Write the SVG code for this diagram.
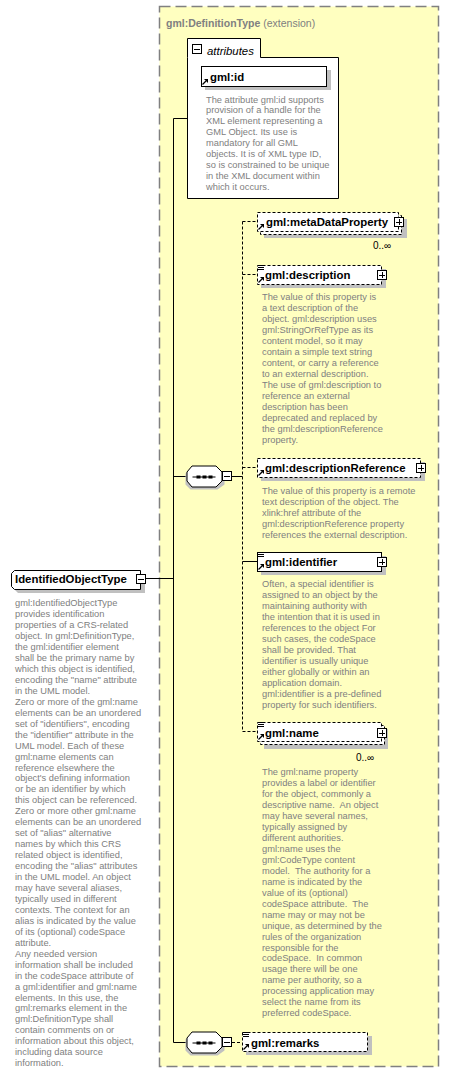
<svg xmlns="http://www.w3.org/2000/svg" width="449" height="1074" viewBox="0 0 449 1074">
<style>
.nm{font-family:"Liberation Sans",Arial,sans-serif;font-weight:bold;font-size:11.4px;fill:#000}
.ds{font-family:"Liberation Sans",Arial,sans-serif;font-size:9.3px;fill:#808080;white-space:pre}
.bx{fill:#fff;stroke:#000;stroke-width:1}
.op{stroke-dasharray:3 2}
.sh{fill:#c0c0c0}
.ln{stroke:#000;fill:none;stroke-width:1}
.dl{stroke:#000;fill:none;stroke-width:1;stroke-dasharray:3 2}
.oc{font-family:"Liberation Sans",Arial,sans-serif;font-size:10px;fill:#000}
</style>
<defs>
<g id="plus"><rect x="-4.5" y="-4.5" width="9" height="9" fill="#fff" stroke="#000"/><path d="M-3,0.5H3M0.5,-3V3" stroke="#000" fill="none"/></g>
<g id="minus"><rect x="-4.5" y="-4.5" width="9" height="9" fill="#fff" stroke="#000"/><path d="M-3,0.5H3" stroke="#000" fill="none"/></g>
<g id="arr"><path d="M1.5,-1.5L5,-5" stroke="#000" stroke-width="1.2" fill="none"/><path d="M3,-7L7,-7L7,-3Z" fill="#000"/></g>
<g id="doc"><path d="M1,0.5H7M1,2.5H7M1,4.5H7" stroke="#000" stroke-width="1" fill="none"/></g>
<g id="seq"><polygon points="4,3 31,3 38,8 38,19 31,24 4,24 -1,19 -1,8" class="sh"/><polygon points="5.5,0.5 29.5,0.5 35.5,6.5 35.5,15.5 29.5,21.5 5.5,21.5 0.5,15.5 0.5,6.5" class="bx"/><path d="M6,11.5H29" stroke="#000"/><rect x="10" y="10" width="4" height="3" fill="#000"/><rect x="16" y="10" width="4" height="3" fill="#000"/><rect x="22" y="10" width="4" height="3" fill="#000"/></g>
</defs>

<g id="extension">
<rect x="159.5" y="6.5" width="279" height="1060" fill="#ffffc0" stroke="#808080" stroke-width="1.5" stroke-dasharray="11 5"/>
<text x="166" y="26.5" font-family="Liberation Sans,Arial,sans-serif" font-size="10.5px" fill="#808080"><tspan font-weight="bold">gml:DefinitionType</tspan> (extension)</text>
</g>

<g id="connectors">
<path class="ln" d="M146,578.5H173.5M173.5,118.5V1042.5M173.5,118.5H187M173.5,476.5H187M173.5,1042.5H187"/>
<path class="ln" d="M232,476.5H242.5"/>
<path class="dl" d="M242.5,221.5V731.5H257M242.5,221.5H257M242.5,274.5H257M242.5,467.5H257"/>
<path class="ln" d="M242.5,561.5H257"/>
<path class="dl" d="M232,1042.5H242"/>
</g>

<g id="IdentifiedObjectType">
<polygon class="sh" points="18,574 145,574 145,593 18,593 15,590 15,577"/>
<polygon class="bx" points="14.5,570.5 140.5,570.5 140.5,589.5 14.5,589.5 11.5,586.5 11.5,573.5"/>
<text class="nm" x="15" y="583">IdentifiedObjectType</text>
<use href="#minus" x="141" y="579"/>
<text class="ds" x="15" y="606.3"><tspan x="15">gml:IdentifiedObjectType</tspan><tspan x="15" dy="10.95">provides identification</tspan><tspan x="15" dy="10.95">properties of a CRS-related</tspan><tspan x="15" dy="10.95">object. In gml:DefinitionType,</tspan><tspan x="15" dy="10.95">the gml:identifier element</tspan><tspan x="15" dy="10.95">shall be the primary name by</tspan><tspan x="15" dy="10.95">which this object is identified,</tspan><tspan x="15" dy="10.95">encoding the "name" attribute</tspan><tspan x="15" dy="10.95">in the UML model.</tspan><tspan x="15" dy="10.95">Zero or more of the gml:name</tspan><tspan x="15" dy="10.95">elements can be an unordered</tspan><tspan x="15" dy="10.95">set of "identifiers", encoding</tspan><tspan x="15" dy="10.95">the "identifier" attribute in the</tspan><tspan x="15" dy="10.95">UML model. Each of these</tspan><tspan x="15" dy="10.95">gml:name elements can</tspan><tspan x="15" dy="10.95">reference elsewhere the</tspan><tspan x="15" dy="10.95">object's defining information</tspan><tspan x="15" dy="10.95">or be an identifier by which</tspan><tspan x="15" dy="10.95">this object can be referenced.</tspan><tspan x="15" dy="10.95">Zero or more other gml:name</tspan><tspan x="15" dy="10.95">elements can be an unordered</tspan><tspan x="15" dy="10.95">set of "alias" alternative</tspan><tspan x="15" dy="10.95">names by which this CRS</tspan><tspan x="15" dy="10.95">related object is identified,</tspan><tspan x="15" dy="10.95">encoding the "alias" attributes</tspan><tspan x="15" dy="10.95">in the UML model. An object</tspan><tspan x="15" dy="10.95">may have several aliases,</tspan><tspan x="15" dy="10.95">typically used in different</tspan><tspan x="15" dy="10.95">contexts. The context for an</tspan><tspan x="15" dy="10.95">alias is indicated by the value</tspan><tspan x="15" dy="10.95">of its (optional) codeSpace</tspan><tspan x="15" dy="10.95">attribute.</tspan><tspan x="15" dy="10.95">Any needed version</tspan><tspan x="15" dy="10.95">information shall be included</tspan><tspan x="15" dy="10.95">in the codeSpace attribute of</tspan><tspan x="15" dy="10.95">a gml:identifier and gml:name</tspan><tspan x="15" dy="10.95">elements. In this use, the</tspan><tspan x="15" dy="10.95">gml:remarks element in the</tspan><tspan x="15" dy="10.95">gml:DefinitionType shall</tspan><tspan x="15" dy="10.95">contain comments on or</tspan><tspan x="15" dy="10.95">information about this object,</tspan><tspan x="15" dy="10.95">including data source</tspan><tspan x="15" dy="10.95">information.</tspan></text>
</g>

<g id="attributes">
<path class="bx" d="M187.5,57.5V38.5H260.5V57.5H338.5V198.5H187.5Z"/>
<use href="#minus" x="197" y="49"/>
<text x="207" y="55" font-family="Liberation Sans,Arial,sans-serif" font-style="italic" font-size="11.4px" fill="#000">attributes</text>
</g>

<g id="gml-id">
<rect class="sh" x="205" y="70" width="126" height="20"/>
<rect class="bx" x="201.5" y="66.5" width="125" height="20"/>
<text class="nm" x="210" y="80.5">gml:id</text>
<use href="#arr" x="201" y="86"/>
<text class="ds" x="206" y="102.5"><tspan x="206">The attribute gml:id supports</tspan><tspan x="206" dy="10.9">provision of a handle for the</tspan><tspan x="206" dy="10.9">XML element representing a</tspan><tspan x="206" dy="10.9">GML Object. Its use is</tspan><tspan x="206" dy="10.9">mandatory for all GML</tspan><tspan x="206" dy="10.9">objects. It is of XML type ID,</tspan><tspan x="206" dy="10.9">so is constrained to be unique</tspan><tspan x="206" dy="10.9">in the XML document within</tspan><tspan x="206" dy="10.9">which it occurs.</tspan></text>
</g>

<g id="sequence1">
<use href="#seq" x="186.5" y="465.5"/>
<use href="#minus" x="227" y="476"/>
</g>

<g id="metaDataProperty">
<rect class="sh" x="264" y="219" width="143" height="19"/>
<rect class="bx op" x="260.5" y="215.5" width="141" height="19"/>
<rect class="bx op" x="257.5" y="212.5" width="141" height="19"/>
<text class="nm" x="266" y="226">gml:metaDataProperty</text>
<use href="#arr" x="257" y="231"/>
<use href="#plus" x="399" y="222"/>
<text class="oc" x="373" y="248.5">0..∞</text>
</g>

<g id="description">
<rect class="sh" x="261" y="269" width="125" height="19"/>
<rect class="bx op" x="257.5" y="265.5" width="124" height="19"/>
<use href="#doc" x="257" y="265"/>
<text class="nm" x="265" y="278.5">gml:description</text>
<use href="#arr" x="257" y="284"/>
<use href="#plus" x="382" y="275"/>
<text class="ds" x="262" y="300"><tspan x="262">The value of this property is</tspan><tspan x="262" dy="11">a text description of the</tspan><tspan x="262" dy="11">object. gml:description uses</tspan><tspan x="262" dy="11">gml:StringOrRefType as its</tspan><tspan x="262" dy="11">content model, so it may</tspan><tspan x="262" dy="11">contain a simple text string</tspan><tspan x="262" dy="11">content, or carry a reference</tspan><tspan x="262" dy="11">to an external description.</tspan><tspan x="262" dy="11">The use of gml:description to</tspan><tspan x="262" dy="11">reference an external</tspan><tspan x="262" dy="11">description has been</tspan><tspan x="262" dy="11">deprecated and replaced by</tspan><tspan x="262" dy="11">the gml:descriptionReference</tspan><tspan x="262" dy="11">property.</tspan></text>
</g>

<g id="descriptionReference">
<rect class="sh" x="261" y="462" width="164" height="19"/>
<rect class="bx op" x="257.5" y="458.5" width="163" height="19"/>
<text class="nm" x="265" y="471.5">gml:descriptionReference</text>
<use href="#arr" x="257" y="477"/>
<use href="#plus" x="421" y="468"/>
<text class="ds" x="262" y="494"><tspan x="262">The value of this property is a remote</tspan><tspan x="262" dy="10.9">text description of the object. The</tspan><tspan x="262" dy="10.9">xlink:href attribute of the</tspan><tspan x="262" dy="10.9">gml:descriptionReference property</tspan><tspan x="262" dy="10.9">references the external description.</tspan></text>
</g>

<g id="identifier">
<rect class="sh" x="261" y="556" width="125" height="19"/>
<rect class="bx" x="257.5" y="552.5" width="124" height="19"/>
<use href="#doc" x="257" y="552"/>
<text class="nm" x="265" y="565.5">gml:identifier</text>
<use href="#arr" x="257" y="571"/>
<use href="#plus" x="382" y="562"/>
<text class="ds" x="262" y="587.3"><tspan x="262">Often, a special identifier is</tspan><tspan x="262" dy="11">assigned to an object by the</tspan><tspan x="262" dy="11">maintaining authority with</tspan><tspan x="262" dy="11">the intention that it is used in</tspan><tspan x="262" dy="11">references to the object For</tspan><tspan x="262" dy="11">such cases, the codeSpace</tspan><tspan x="262" dy="11">shall be provided. That</tspan><tspan x="262" dy="11">identifier is usually unique</tspan><tspan x="262" dy="11">either globally or within an</tspan><tspan x="262" dy="11">application domain.</tspan><tspan x="262" dy="11">gml:identifier is a pre-defined</tspan><tspan x="262" dy="11">property for such identifiers.</tspan></text>
</g>

<g id="name">
<rect class="sh" x="264" y="729" width="124" height="20"/>
<rect class="bx op" x="260.5" y="725.5" width="124" height="19"/>
<rect class="bx op" x="257.5" y="722.5" width="124" height="19"/>
<use href="#doc" x="257" y="722"/>
<text class="nm" x="265" y="736.5">gml:name</text>
<use href="#arr" x="257" y="741"/>
<use href="#plus" x="382" y="733"/>
<text class="oc" x="356" y="760.5">0..∞</text>
<text class="ds" x="262" y="775"><tspan x="262">The gml:name property</tspan><tspan x="262" dy="10.97">provides a label or identifier</tspan><tspan x="262" dy="10.97">for the object, commonly a</tspan><tspan x="262" dy="10.97">descriptive name.  An object</tspan><tspan x="262" dy="10.97">may have several names,</tspan><tspan x="262" dy="10.97">typically assigned by</tspan><tspan x="262" dy="10.97">different authorities.</tspan><tspan x="262" dy="10.97">gml:name uses the</tspan><tspan x="262" dy="10.97">gml:CodeType content</tspan><tspan x="262" dy="10.97">model.  The authority for a</tspan><tspan x="262" dy="10.97">name is indicated by the</tspan><tspan x="262" dy="10.97">value of its (optional)</tspan><tspan x="262" dy="10.97">codeSpace attribute.  The</tspan><tspan x="262" dy="10.97">name may or may not be</tspan><tspan x="262" dy="10.97">unique, as determined by the</tspan><tspan x="262" dy="10.97">rules of the organization</tspan><tspan x="262" dy="10.97">responsible for the</tspan><tspan x="262" dy="10.97">codeSpace.  In common</tspan><tspan x="262" dy="10.97">usage there will be one</tspan><tspan x="262" dy="10.97">name per authority, so a</tspan><tspan x="262" dy="10.97">processing application may</tspan><tspan x="262" dy="10.97">select the name from its</tspan><tspan x="262" dy="10.97">preferred codeSpace.</tspan></text>
</g>

<g id="sequence2">
<use href="#seq" x="186.5" y="1031.5"/>
<use href="#minus" x="227" y="1042"/>
</g>

<g id="remarks">
<rect class="sh" x="246" y="1036" width="126" height="19"/>
<rect class="bx op" x="242.5" y="1032.5" width="125" height="19"/>
<use href="#doc" x="242" y="1032"/>
<text class="nm" x="251" y="1046.5">gml:remarks</text>
<use href="#arr" x="242" y="1051"/>
</g>
</svg>
